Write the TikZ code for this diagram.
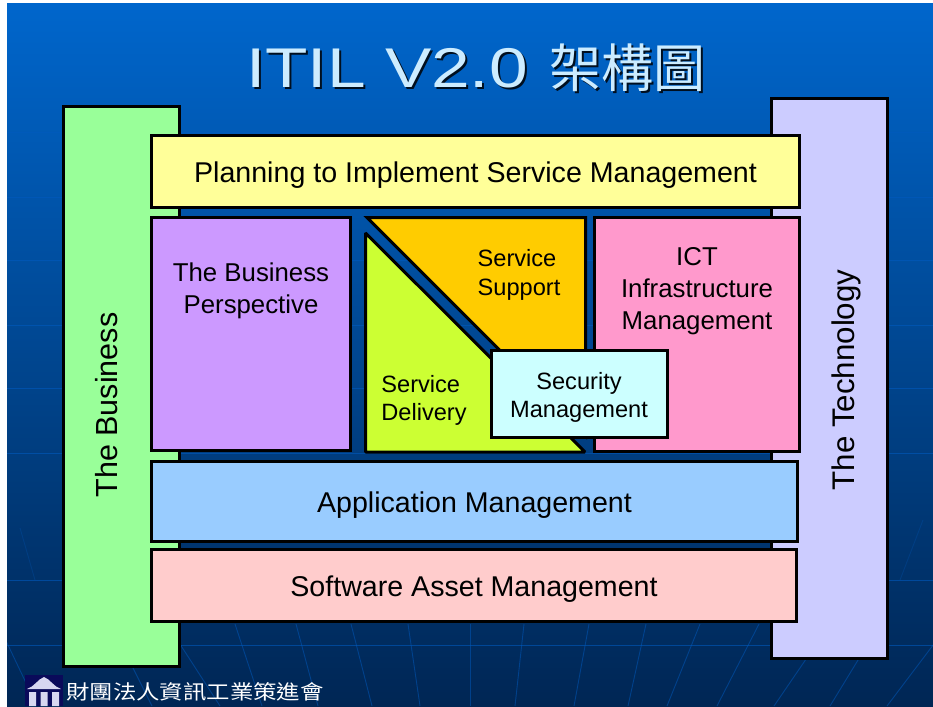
\documentclass[tikz,border=0pt]{standalone}
\usepackage{fontspec}
\usepackage{graphicx}
\setmainfont{Liberation Sans}
\newfontfamily\cjkfont{Noto Sans CJK TC}
\definecolor{bgtop}{RGB}{0,102,204}
\definecolor{bgbottom}{RGB}{0,38,84}
\definecolor{gridline}{RGB}{0,90,190}
\definecolor{titleblue}{RGB}{204,236,255}
\definecolor{greenbox}{RGB}{153,255,153}
\definecolor{lilacbox}{RGB}{204,204,255}
\definecolor{yellowbox}{RGB}{255,255,153}
\definecolor{purplebox}{RGB}{204,153,255}
\definecolor{pinkbox}{RGB}{255,153,204}
\definecolor{orangebox}{RGB}{255,204,0}
\definecolor{limebox}{RGB}{204,255,51}
\definecolor{cyanbox}{RGB}{204,255,255}
\definecolor{bluebox}{RGB}{153,204,255}
\definecolor{rosebox}{RGB}{255,204,204}
\definecolor{logobg}{RGB}{10,10,90}
\definecolor{logocol}{RGB}{215,215,240}
\newcommand{\titletext}{\scalebox{1.24}[1]{ITIL V2.0}\hspace{22pt}{\fontsize{52}{60}\selectfont\cjkfont 架構圖}}
\tikzset{
  panel/.style={draw=black,line width=3pt,inner sep=0pt,outer sep=0pt,text=black,align=center},
  bigtext/.style={font=\fontsize{28.6}{32}\selectfont},
  midtext/.style={font=\fontsize{25.8}{32}\selectfont},
  smalltext/.style={font=\fontsize{23.6}{29}\selectfont},
  label/.style={inner sep=0pt,text=black,align=center},
  gridrule/.style={gridline,opacity=.6,line width=1pt},
  fanrule/.style={gridline,opacity=.5,line width=.9pt},
  titlefont/.style={inner sep=0pt,font=\fontsize{56}{60}\selectfont}
}
\begin{document}
\begin{tikzpicture}[x=1pt,y=-1pt]
\useasboundingbox (0,0) rectangle (933,706);
\fill[white] (0,0) rectangle (933,706);
\shade[top color=bgtop,bottom color=bgbottom] (7,4) rectangle (933,706);
% floor grid
\begin{scope}
\clip (7,4) rectangle (933,706);
\foreach \yy in {132,197,260,325,388,453,580,645}
  \draw[gridrule] (7,\yy) -- (933,\yy);
\foreach \xa/\xb in {-2/37,111/152,167/220,235/262,296/318,351/372,408/420,470/470,524/515,589/574,646/628,700/667,759/717,830/774,880/830,949/887}
  \draw[fanrule] (\xa,624) -- (\xb,706);
\draw[fanrule,opacity=.25] (20,528) -- (35,580);
\draw[fanrule,opacity=.25] (923,520) -- (900,580);
\end{scope}
% title
\node[titlefont,text=black!85!bgtop] (titleshadow) at (478,70) {\titletext};
\node[titlefont,text=titleblue] (title) at (476,68) {\titletext};
% side columns
\node[panel,fill=greenbox,minimum width=116pt,minimum height=560pt] (business) at (121.5,386.5) {};
\node[panel,fill=lilacbox,minimum width=116pt,minimum height=560pt] (technology) at (829.5,378.5) {};
\node[label,rotate=90,font=\fontsize{30.5}{34}\selectfont] (businesslabel) at (107,405) {The Business};
\node[label,rotate=90,font=\fontsize{31.3}{34}\selectfont] (technologylabel) at (846,380) {The Technology};
% horizontal bands
\node[panel,fill=yellowbox,minimum width=648pt,minimum height=72pt] (planning) at (475.5,171.5) {};
\node[bigtext,label] (planninglabel) at (475.5,175.5) {Planning to Implement Service Management};
\node[panel,fill=bluebox,minimum width=646pt,minimum height=80pt] (application) at (474.5,501) {};
\node[bigtext,label] (applicationlabel) at (474.5,505) {Application Management};
\node[panel,fill=rosebox,minimum width=645pt,minimum height=72pt] (software) at (474,585.5) {};
\node[bigtext,label] (softwarelabel) at (474,589.5) {Software Asset Management};
% central panels
\node[panel,fill=purplebox,minimum width=199pt,minimum height=233pt] (perspective) at (251,334) {};
\node[midtext,label] (perspectivelabel) at (251,291) {The Business\\Perspective};
\node[panel,fill=pinkbox,minimum width=205pt,minimum height=234pt] (ict) at (697,334.5) {};
\node[midtext,label] (ictlabel) at (697,291.5) {ICT\\Infrastructure\\Management};
% triangles
\draw[draw=black,line width=3pt,line join=miter,fill=orangebox] (367,217.5) -- (585.5,217.5) -- (585.5,436) -- cycle;
\draw[draw=black,line width=3pt,line join=bevel,fill=limebox] (365.5,233) -- (365.5,452) -- (585,452) -- cycle;
\node[smalltext,label,anchor=center] (supportlabel) at (519,275) {\begin{tabular}{@{}l@{}}Service\\[-.5pt]Support\end{tabular}};
\node[smalltext,label] (deliverylabel) at (424,400.5) {\begin{tabular}{@{}l@{}}Service\\[-1.5pt]Delivery\end{tabular}};
% security
\node[panel,fill=cyanbox,minimum width=176pt,minimum height=87pt] (security) at (579,393.5) {};
\node[label,font=\fontsize{23.6}{28}\selectfont] (securitylabel) at (579,397) {Security\\Management};
% footer logo
\fill[logobg] (25,675) rectangle (63,706);
\fill[logocol] (27,689) .. controls (34,687) and (38,679) .. (44,677) .. controls (50,679) and (54,687) .. (61,689) -- cycle;
\fill[logocol] (29,692) rectangle (36,706) (40.5,692) rectangle (47.5,706) (52,692) rectangle (59,706);
\node[inner sep=0pt,text=white,anchor=west,font=\fontsize{20}{22}\selectfont] (footer) at (66,692) {\scalebox{1.17}[1]{\cjkfont 財團法人資訊工業策進會}};
\end{tikzpicture}
\end{document}
